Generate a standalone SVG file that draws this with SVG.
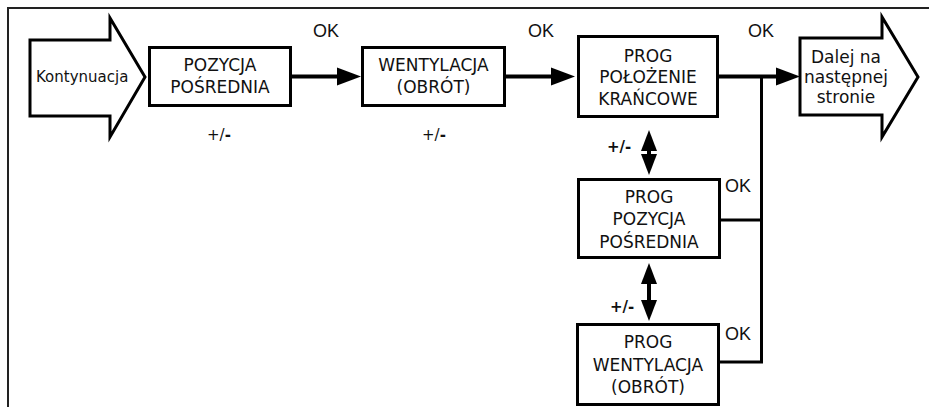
<svg xmlns="http://www.w3.org/2000/svg" width="929" height="407" viewBox="0 0 929 407">
<style>
.box{fill:#fff;stroke:#000;stroke-width:3}
.big{fill:#fff;stroke:#000;stroke-width:3;stroke-linejoin:miter}
.t{font-family:"DejaVu Sans",Verdana,sans-serif;font-size:17px;fill:#111;text-anchor:middle}
.s{font-family:"DejaVu Sans",Verdana,sans-serif;font-size:15px;fill:#111}
.ok{font-family:"Liberation Sans",Arial,sans-serif;font-size:18px;fill:#111}
.pm{font-family:"DejaVu Sans",Verdana,sans-serif;font-size:15px;fill:#111}
.c{fill:none;stroke:#000;stroke-width:4}
.v{fill:none;stroke:#000;stroke-width:3}
</style>
<defs>
<marker id="h" markerUnits="userSpaceOnUse" markerWidth="24" markerHeight="18" refX="0" refY="9" orient="auto" overflow="visible">
<path d="M0,0 L24,9 L0,18 z" fill="#000"/>
</marker>
<marker id="vh" markerUnits="userSpaceOnUse" markerWidth="21" markerHeight="16" refX="0" refY="8" orient="auto-start-reverse" overflow="visible">
<path d="M0,0 L21,8 L0,16 z" fill="#000"/>
</marker>
</defs>
<rect width="929" height="407" fill="#fff"/>
<path d="M8,407 V8 H929" fill="none" stroke="#222" stroke-width="2"/>

<g id="connectors">
<path class="c" d="M292,76.5 H337" marker-end="url(#h)"/>
<path class="c" d="M506,76.5 H551" marker-end="url(#h)"/>
<path class="c" d="M719,76.5 H776" marker-end="url(#h)"/>
<path class="v" d="M761.5,76.5 V362 M721,220 H761.5 M720,362 H763"/>
<path class="c" d="M649,151 V154" marker-start="url(#vh)" marker-end="url(#vh)"/>
<path class="c" d="M649,284 V300" marker-start="url(#vh)" marker-end="url(#vh)"/>
<text class="ok" x="313" y="37">OK</text>
<text class="ok" x="528" y="37">OK</text>
<text class="ok" x="748" y="37">OK</text>
<text class="ok" x="725" y="192">OK</text>
<text class="ok" x="725" y="340">OK</text>
<text class="pm" x="207" y="140">+/<tspan font-weight="bold">-</tspan></text>
<text class="pm" x="422" y="140">+/<tspan font-weight="bold">-</tspan></text>
<text class="pm" x="607" y="152" font-weight="bold">+/-</text>
<text class="pm" x="610" y="312" font-weight="bold">+/-</text>
</g>

<g id="kontynuacja">
<path class="big" d="M30,40 H110 V18 L145,77 L110,137 V116 H30 Z"/>
<text class="s" x="36" y="82">Kontynuacja</text>
</g>

<g id="pozycja-posrednia">
<rect class="box" x="149.5" y="47.5" width="141" height="58"/>
<text class="t" x="220" y="71">POZYCJA</text>
<text class="t" x="220" y="93">POŚREDNIA</text>
</g>

<g id="wentylacja">
<rect class="box" x="362.5" y="47.5" width="142" height="58"/>
<text class="t" x="433.5" y="71">WENTYLACJA</text>
<text class="t" x="433.5" y="93">(OBRÓT)</text>
</g>

<g id="prog-polozenie">
<rect class="box" x="578.5" y="36.5" width="139" height="80"/>
<text class="t" x="648" y="62">PROG</text>
<text class="t" x="648" y="83">POŁOŻENIE</text>
<text class="t" x="648" y="105">KRAŃCOWE</text>
</g>

<g id="prog-pozycja">
<rect class="box" x="578.5" y="179.5" width="141" height="78"/>
<text class="t" x="649" y="203">PROG</text>
<text class="t" x="649" y="225">POZYCJA</text>
<text class="t" x="649" y="248">POŚREDNIA</text>
</g>

<g id="prog-wentylacja">
<rect class="box" x="577.5" y="324.5" width="141" height="80"/>
<text class="t" x="648" y="348">PROG</text>
<text class="t" x="648" y="371">WENTYLACJA</text>
<text class="t" x="648" y="393">(OBRÓT)</text>
</g>

<g id="dalej">
<path class="big" d="M800,38 H882 V17 L918,77 L882,137 V115 H800 Z"/>
<text class="t" x="846" y="63">Dalej na</text>
<text class="t" x="846" y="83">następnej</text>
<text class="t" x="846" y="103">stronie</text>
</g>
</svg>
